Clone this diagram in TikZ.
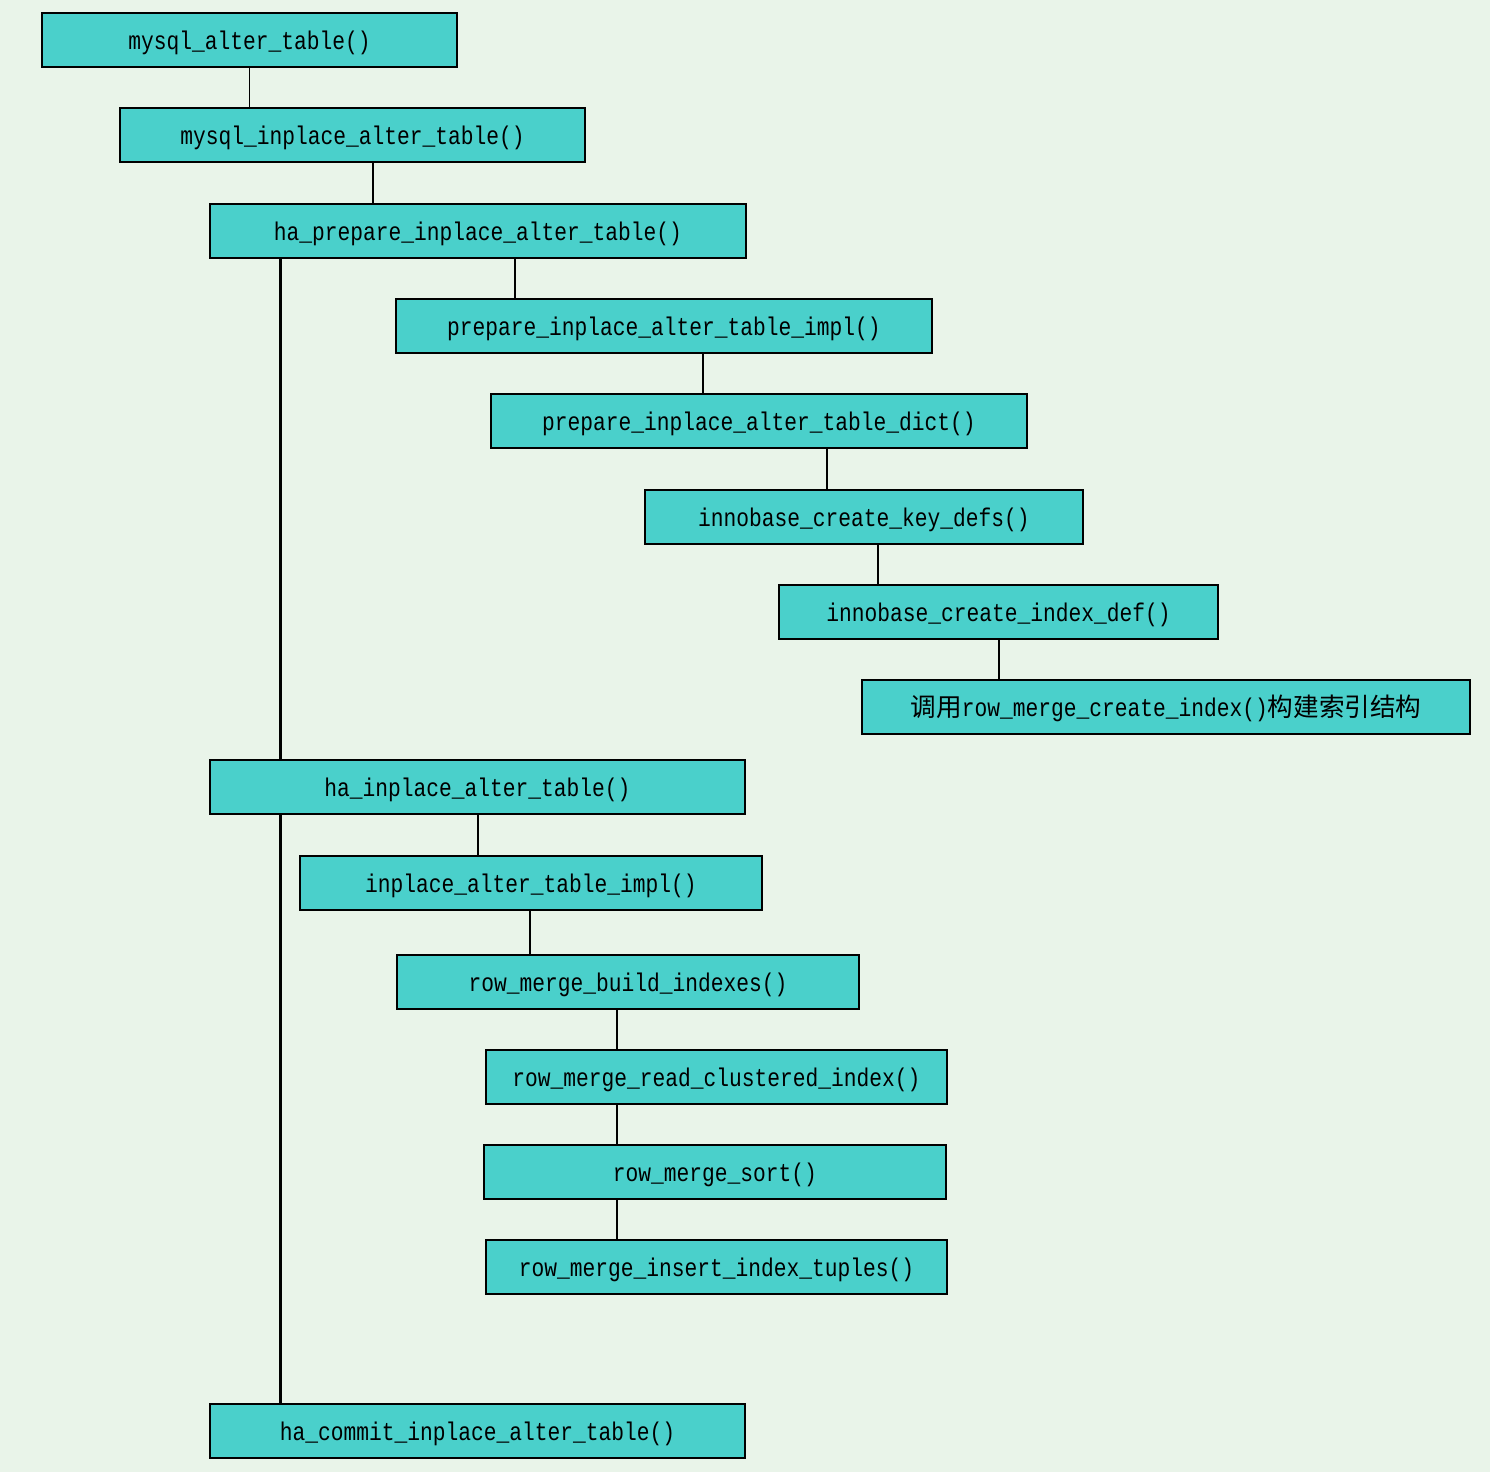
\documentclass[tikz,border=0pt]{standalone}
\usepackage{fontspec}
\usepackage{xcolor}
\usepackage{tikz}
\setmonofont[FakeStretch=0.83]{Liberation Mono}
\newfontfamily\cjk{Noto Sans CJK SC}
\definecolor{bgcol}{HTML}{E9F4E9}
\definecolor{boxcol}{HTML}{4AD0CB}
\tikzset{
  fn/.style={draw=black,line width=1.35pt,fill=boxcol,minimum width=#1*0.5pt,
    minimum height=27pt,inner sep=0pt,text height=11pt,text depth=1.7pt,
    font=\ttfamily\fontsize{12.8}{14}\selectfont},
  link/.style={line width=0.75pt},
  trunk/.style={line width=1.5pt}
}
\begin{document}
\begin{tikzpicture}[x=0.5pt,y=-0.5pt]
\fill[bgcol] (0,0) rectangle (1490,1472);
\useasboundingbox (0,0) rectangle (1490,1472);
% prepare phase
\node[fn=415] (b1) at (249.5,40) {mysql\_alter\_table()};
\node[fn=465] (b2) at (352.5,135) {mysql\_inplace\_alter\_table()};
\node[fn=536] (b3) at (478,231) {ha\_prepare\_inplace\_alter\_table()};
\node[fn=536] (b4) at (664,326) {prepare\_inplace\_alter\_table\_impl()};
\node[fn=536] (b5) at (759,421) {prepare\_inplace\_alter\_table\_dict()};
\node[fn=438] (b6) at (864,517) {innobase\_create\_key\_defs()};
\node[fn=439] (b7) at (998.5,612) {innobase\_create\_index\_def()};
\node[fn=608] (b8) at (1166,707) {{\cjk 调用}row\_merge\_create\_index(){\cjk 构建索引结构}};
% build phase
\node[fn=535] (b9) at (477.5,787) {ha\_inplace\_alter\_table()};
\node[fn=462] (b10) at (531,883) {inplace\_alter\_table\_impl()};
\node[fn=462] (b11) at (628,982) {row\_merge\_build\_indexes()};
\node[fn=461] (b12) at (716.5,1077) {row\_merge\_read\_clustered\_index()};
\node[fn=462] (b13) at (715,1172) {row\_merge\_sort()};
\node[fn=461] (b14) at (716.5,1267) {row\_merge\_insert\_index\_tuples()};
% commit phase
\node[fn=535] (b15) at (477.5,1431) {ha\_commit\_inplace\_alter\_table()};
% call links
\foreach \a/\b/\x in {b1/b2/249.5,b2/b3/373,b3/b4/515,b4/b5/703,b5/b6/827,b6/b7/878,
  b7/b8/999,b9/b10/478,b10/b11/530,b11/b12/617,b12/b13/617,b13/b14/617}
  \draw[link] (\x,0 |- \a.south) -- (\x,0 |- \b.north);
\draw[trunk] (280,0 |- b3.south) -- (280,0 |- b9.north);
\draw[trunk] (280,0 |- b9.south) -- (280,0 |- b15.north);
\end{tikzpicture}
\end{document}
